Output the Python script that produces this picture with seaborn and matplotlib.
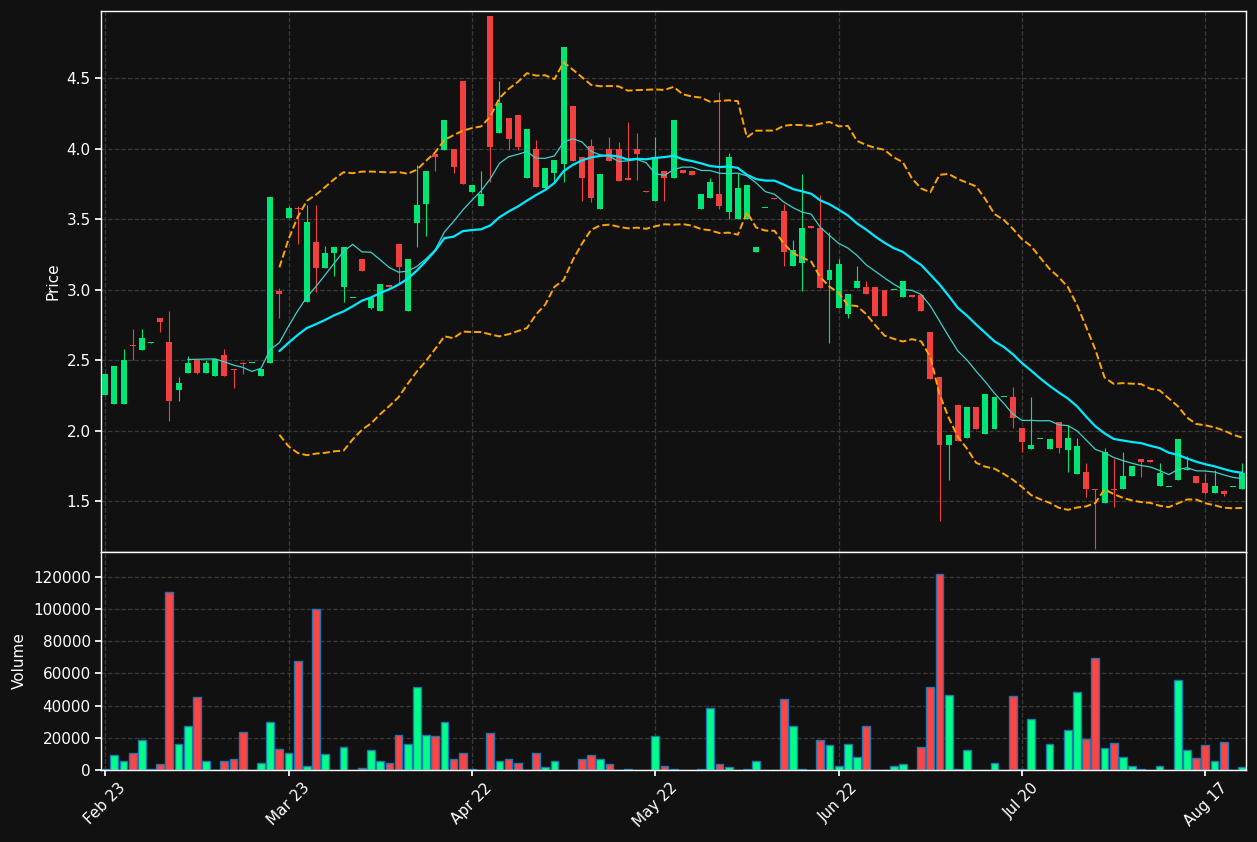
import numpy as np
import pandas as pd
import matplotlib
matplotlib.use("Agg")
import matplotlib.pyplot as plt
import seaborn as sns

opens = [2.25, 2.19, 2.19, 2.61, 2.57, 2.62, 2.80, 2.63, 2.29, 2.41,
         2.50, 2.41, 2.39, 2.54, 2.44, 2.48, 2.48, 2.39, 2.48, 2.99,
         3.51, 3.58, 2.91, 3.34, 3.15, 3.26, 3.02, 2.94, 3.22, 2.87,
         2.85, 3.03, 3.32, 2.85, 3.47, 3.61, 3.96, 3.99, 4.00, 4.48,
         3.69, 3.59, 4.94, 4.11, 4.22, 4.24, 3.79, 4.00, 3.72, 3.83,
         3.89, 4.30, 3.94, 4.02, 3.57, 4.00, 4.00, 3.79, 4.00, 3.70,
         3.63, 3.84, 3.79, 3.85, 3.84, 3.57, 3.65, 3.68, 3.55, 3.50,
         3.50, 3.27, 3.58, 3.65, 3.56, 3.17, 3.19, 3.45, 3.44, 3.07,
         2.87, 2.83, 3.01, 3.02, 3.02, 3.00, 3.00, 2.95, 2.96, 2.96,
         2.70, 2.38, 1.90, 2.18, 1.95, 2.17, 1.98, 2.01, 2.24, 2.24,
         2.02, 1.87, 1.94, 1.87, 2.06, 1.86, 1.69, 1.71, 1.59, 1.49,
         1.59, 1.59, 1.68, 1.80, 1.79, 1.61, 1.60, 1.65, 1.72, 1.68,
         1.63, 1.56, 1.57, 1.60, 1.59]
closes = [2.40, 2.46, 2.50, 2.60, 2.66, 2.63, 2.77, 2.21, 2.34, 2.48,
          2.41, 2.48, 2.51, 2.39, 2.43, 2.47, 2.48, 2.44, 3.66, 2.97,
          3.58, 3.57, 3.48, 3.15, 3.26, 3.30, 3.30, 2.94, 3.13, 2.94,
          3.04, 3.02, 3.16, 3.22, 3.60, 3.84, 3.94, 4.20, 3.87, 3.75,
          3.74, 3.68, 4.01, 4.32, 4.07, 4.01, 4.14, 3.73, 3.86, 3.92,
          4.72, 3.91, 3.79, 3.65, 3.82, 3.91, 3.77, 3.78, 3.96, 3.69,
          3.94, 3.79, 4.20, 3.83, 3.81, 3.68, 3.76, 3.59, 3.94, 3.72,
          3.74, 3.30, 3.58, 3.64, 3.27, 3.28, 3.44, 3.44, 3.01, 3.14,
          3.18, 2.97, 3.06, 2.97, 2.81, 2.81, 3.00, 3.06, 2.95, 2.85,
          2.37, 1.90, 1.97, 1.93, 2.17, 2.01, 2.26, 2.24, 2.24, 2.09,
          1.92, 1.90, 1.94, 1.94, 1.88, 1.95, 1.89, 1.59, 1.58, 1.85,
          1.58, 1.68, 1.75, 1.78, 1.78, 1.70, 1.60, 1.94, 1.72, 1.63,
          1.56, 1.61, 1.55, 1.60, 1.70]
highs = [2.41, 2.46, 2.58, 2.72, 2.72, 2.63, 2.80, 2.85, 2.38, 2.53,
         2.50, 2.50, 2.51, 2.58, 2.44, 2.49, 2.48, 2.44, 3.66, 3.01,
         3.59, 3.59, 3.60, 3.60, 3.31, 3.30, 3.30, 2.94, 3.22, 2.94,
         3.04, 3.03, 3.32, 3.22, 3.88, 3.84, 3.96, 4.20, 4.00, 4.48,
         3.74, 3.84, 4.94, 4.48, 4.22, 4.24, 4.14, 4.06, 3.86, 3.92,
         4.72, 4.30, 3.94, 4.07, 3.82, 4.08, 4.05, 4.19, 4.11, 3.70,
         4.08, 3.84, 4.20, 3.85, 3.84, 3.68, 3.79, 4.40, 3.97, 3.83,
         3.74, 3.30, 3.58, 3.65, 3.61, 3.35, 3.82, 3.45, 3.67, 3.41,
         3.22, 2.97, 3.17, 3.06, 3.02, 3.00, 3.00, 3.06, 2.96, 2.96,
         2.70, 2.38, 1.97, 2.18, 2.17, 2.17, 2.26, 2.24, 2.24, 2.31,
         2.02, 2.24, 1.94, 1.94, 2.06, 2.04, 1.95, 1.77, 1.59, 1.88,
         1.80, 1.85, 1.75, 1.80, 1.79, 1.77, 1.60, 1.94, 1.82, 1.68,
         1.70, 1.72, 1.58, 1.60, 1.77]
lows = [2.25, 2.19, 2.19, 2.50, 2.57, 2.62, 2.70, 2.07, 2.21, 2.41,
        2.40, 2.41, 2.39, 2.39, 2.30, 2.40, 2.48, 2.39, 2.48, 2.80,
        3.51, 3.32, 2.91, 2.98, 3.15, 3.10, 2.91, 2.94, 3.13, 2.86,
        2.85, 3.02, 3.05, 2.85, 3.30, 3.38, 3.84, 3.99, 3.83, 3.75,
        3.69, 3.59, 3.76, 4.11, 3.99, 3.99, 3.79, 3.73, 3.72, 3.76,
        3.76, 3.91, 3.63, 3.62, 3.57, 3.91, 3.77, 3.78, 3.78, 3.69,
        3.63, 3.63, 3.79, 3.83, 3.81, 3.57, 3.65, 3.57, 3.50, 3.50,
        3.50, 3.27, 3.58, 3.64, 3.17, 3.17, 2.99, 3.44, 3.01, 2.62,
        2.87, 2.80, 3.01, 2.97, 2.81, 2.81, 3.00, 2.95, 2.95, 2.85,
        2.37, 1.36, 1.65, 1.93, 1.95, 2.01, 1.98, 2.01, 2.24, 2.02,
        1.85, 1.87, 1.94, 1.87, 1.84, 1.71, 1.69, 1.53, 1.16, 1.49,
        1.46, 1.59, 1.68, 1.67, 1.78, 1.61, 1.60, 1.65, 1.72, 1.63,
        1.55, 1.56, 1.54, 1.60, 1.59]
volumes = [800, 9300, 5800, 10500, 18900, 500, 3700, 110600, 16200, 27300,
           45400, 5800, 0, 5500, 7000, 23600, 0, 4300, 29800, 13000,
           10500, 67700, 2500, 100000, 10000, 0, 14300, 0, 1300, 12400,
           5800, 4300, 21800, 16200, 51600, 21800, 21200, 29800, 7000, 10500,
           800, 200, 23000, 5500, 6600, 4300, 300, 10500, 1900, 5500,
           300, 300, 7000, 9300, 6600, 3700, 0, 900, 0, 0,
           21200, 2500, 900, 0, 300, 900, 38600, 3700, 1900, 300,
           900, 5500, 0, 300, 44100, 27300, 800, 0, 18500, 15500,
           2500, 16200, 8000, 27300, 300, 300, 2500, 3700, 0, 14300,
           51600, 122000, 46600, 800, 12400, 300, 0, 4300, 0, 46000,
           800, 31600, 0, 16200, 300, 25000, 48500, 19100, 69500, 13400,
           16600, 8000, 2500, 800, 0, 2500, 0, 56000, 12400, 7200,
           15500, 5500, 17600, 0, 1900]
tick_pos = [0, 20, 40, 60, 80, 100, 120]
tick_labels = ["Feb 23", "Mar 23", "Apr 22", "May 22", "Jun 22", "Jul 20", "Aug 17"]

df = pd.DataFrame({"open": opens, "high": highs, "low": lows, "close": closes, "volume": volumes})
df["idx"] = np.arange(len(df))
df["ma10"] = df["close"].rolling(10).mean()
df["ma20"] = df["close"].rolling(20).mean()
std20 = df["close"].rolling(20).std(ddof=0)
df["upper"] = df["ma20"] + 2 * std20
df["lower"] = df["ma20"] - 2 * std20

sns.set_theme(style="dark")
bg = "#111111"
plt.rcParams.update({"axes.facecolor": bg, "figure.facecolor": bg, "text.color": "white",
                     "axes.labelcolor": "white", "xtick.color": "white", "ytick.color": "white"})
plt.rcParams["font.family"] = ["DejaVu Sans"]

fig = plt.figure(figsize=(12.57, 8.42), dpi=100)
ax = fig.add_axes([0.0804, 0.3444, 0.911, 0.6425])
axv = fig.add_axes([0.0804, 0.0855, 0.911, 0.259], sharex=ax)

up_c, down_c = "#00e676", "#f23f3f"
up = df["close"] >= df["open"]
colors = np.where(up, up_c, down_c)
body_lo = np.minimum(df["open"], df["close"])
body_h = np.maximum((df["close"] - df["open"]).abs(), 0.006)
ax.vlines(df["idx"], df["low"], df["high"], colors=colors, linewidth=0.8, zorder=2)
ax.bar(df["idx"], body_h, bottom=body_lo, width=0.65, color=colors, linewidth=0, zorder=3)

sns.lineplot(data=df, x="idx", y="ma10", ax=ax, color="#3fd0c8", linewidth=0.9, zorder=4)
sns.lineplot(data=df, x="idx", y="ma20", ax=ax, color="#00eaff", linewidth=1.6, zorder=4)
sns.lineplot(data=df, x="idx", y="upper", ax=ax, color="orange", linewidth=1.4, linestyle="--", zorder=4)
sns.lineplot(data=df, x="idx", y="lower", ax=ax, color="orange", linewidth=1.4, linestyle="--", zorder=4)

vcolors = np.where(up, "#00ff88", "#ff4444")
axv.bar(df["idx"], df["volume"], width=0.85, color=vcolors, edgecolor="#1f77b4", linewidth=1.0)

for a in (ax, axv):
    a.grid(True, color="#3a3a3a", linestyle="--", linewidth=0.9)
    for s in a.spines.values():
        s.set_color("white")
        s.set_linewidth(1.0)
    a.tick_params(colors="white", labelsize=11, length=4, left=True, bottom=True)

ax.set_xlim(-0.45, 124.45)
ax.set_ylim(1.14, 4.975)
ax.set_yticks([1.5, 2.0, 2.5, 3.0, 3.5, 4.0, 4.5])
ax.set_ylabel("Price", fontsize=11)
ax.set_xlabel("")
ax.tick_params(labelbottom=False)

axv.set_ylim(0, 135500)
axv.set_yticks(range(0, 120001, 20000))
axv.set_ylabel("Volume", fontsize=11)
axv.set_xlabel("")
axv.set_xticks(tick_pos)
axv.set_xticklabels(tick_labels, rotation=45, ha="center")

fig.savefig("out.png", dpi=100, facecolor=bg)
